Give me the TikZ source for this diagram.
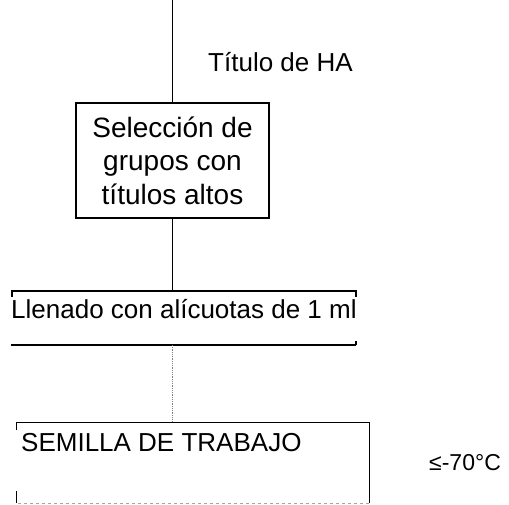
\documentclass[tikz,border=0pt]{standalone}
\usepackage{fontspec}
\setmainfont{Liberation Sans}
\begin{document}
\begin{tikzpicture}[x=1pt,y=-1pt,
  line/.style={line width=1.1pt,black},
  lbl/.style={inner sep=0pt,anchor=base west,font=\fontsize{26}{30}\selectfont},
  boxtext/.style={draw,line width=1.1pt,minimum width=193pt,minimum height=115pt,inner sep=0pt,
    align=center,font=\fontsize{28}{33.5}\selectfont}]
\useasboundingbox (0,0) rectangle (509,505);
% top connector
\coordinate (top) at (172.5,0);
\node[boxtext] (sel) at (172.5,160.5) {Selección de\\grupos con\\títulos altos};
\draw[line] (top) -- (sel.north);
\node[lbl] (titulo) at (208,72) {Título de HA};
% bracket group
\coordinate (brk) at (172.5,291);
\draw[line] (sel.south) -- (brk);
\node[lbl] (llen) at (11,318) {Llenado con alícuotas de 1 ml};
\draw[line] (12,297) -- (12,291) -- (356,291) -- (356,297);
\draw[line width=1.8pt] (11,345) -- (356,345);
\draw[line] (356,341) -- (356,345);
\coordinate (llenbot) at (172.5,345);
% bottom box
\node[inner sep=0pt,minimum width=352pt,minimum height=80pt] (sem) at (193,463) {};
\draw[gray,line width=0.8pt,densely dotted] (llenbot) -- (sem.north -| llenbot);
\draw[line] (sem.north west) ++(0,7) -- (sem.north west) -- (sem.north east) -- (sem.south east);
\draw[gray!70,line width=1pt,dashed] (sem.south east) -- (sem.south west);
\draw[line] (sem.south west) ++(0,-12) -- (sem.south west);
\node[lbl] (semtxt) at (21,451) {SEMILLA DE TRABAJO};
\node[lbl,font=\fontsize{23}{26}\selectfont] (temp) at (429,470) {≤-70°C};
\end{tikzpicture}
\end{document}
